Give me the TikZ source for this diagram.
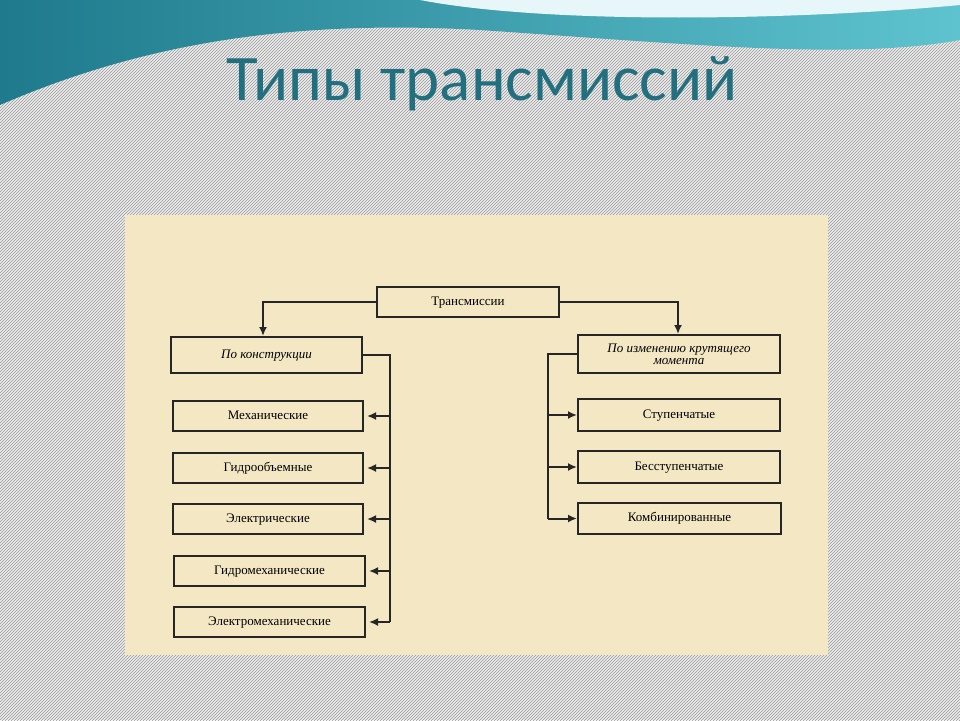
\documentclass[tikz,border=0pt]{standalone}
\usepackage{fontspec}
\setmainfont{Liberation Serif}
\newfontfamily\titlefont{Carlito}
\usetikzlibrary{patterns,arrows.meta}
\definecolor{teal1}{HTML}{1E7A8C}
\definecolor{teal2}{HTML}{5FC3CF}
\definecolor{paper}{HTML}{F3E7C4}
\definecolor{ttl}{HTML}{22707F}
\tikzset{
  bx/.style={draw=black!85,line width=2pt,minimum height=30pt,anchor=north west,inner sep=0pt,text height=9pt,text depth=3pt,font=\fontsize{13}{14}\selectfont},
  ln/.style={line width=2pt,black!85},
  ar/.style={ln,-{Latex[length=9pt,width=8pt]}}
}
\begin{document}
\begin{tikzpicture}[x=1pt,y=-1pt]
\useasboundingbox (0,0) rectangle (960,720);
\fill[gray!15] (0,0) rectangle (960,720);
\fill[pattern=north east lines,pattern color=gray!80] (0,0) rectangle (960,720);
\shade[left color=teal1,right color=teal2] (0,0) -- (0,105) .. controls (150,40) and (300,20) .. (480,30) .. controls (700,45) and (850,60) .. (960,40) -- (960,0) -- cycle;
\fill[white!85!teal2] (420,0) .. controls (550,25) and (800,20) .. (960,5) -- (960,0) -- cycle;
\node[font=\titlefont\fontsize{65}{65}\selectfont,text=ttl] (title) at (482,84) {Типы трансмиссий};
\fill[paper] (125,215) rectangle (828,655);
\node[bx,minimum width=182pt] (t) at (376,286) {Трансмиссии};
\node[bx,minimum width=191pt,minimum height=36pt,font=\itshape\fontsize{13}{14}\selectfont] (k) at (170,336) {По конструкции};
\node[bx,minimum width=190pt] (m1) at (172,400) {Механические};
\node[bx,minimum width=190pt] (m2) at (172,452) {Гидрообъемные};
\node[bx,minimum width=190pt] (m3) at (172,503) {Электрические};
\node[bx,minimum width=191pt] (m4) at (173,555) {Гидромеханические};
\node[bx,minimum width=191pt] (m5) at (173,606) {Электромеханические};
\node[bx,minimum width=202pt,minimum height=38pt,align=center,text height=,text depth=,font=\itshape\fontsize{13}{12}\selectfont] (r) at (577,334) {По изменению крутящего\\момента};
\node[bx,minimum width=202pt,minimum height=32pt] (r1) at (577,398) {Ступенчатые};
\node[bx,minimum width=202pt,minimum height=32pt] (r2) at (577,450) {Бесступенчатые};
\node[bx,minimum width=203pt,minimum height=31pt] (r3) at (577,502) {Комбинированные};
\draw[ar] (t.west) -| (k.north -| 263,0);
\draw[ar] (t.east) -| (r.north -| 678,0);
\coordinate (lb) at (390,0);
\draw[ln] (k.east) -- (k.east -| lb) -- (lb |- m5.east);
\foreach \n in {m1,m2,m3,m4,m5}{\draw[ar] (\n.east -| lb) -- ([xshift=3pt]\n.east);}
\coordinate (rb) at (548,0);
\draw[ln] (r.west) -- (r.west -| rb) -- (rb |- r3.west);
\foreach \n in {r1,r2,r3}{\draw[ar] (\n.west -| rb) -- (\n.west);}
\end{tikzpicture}
\end{document}
